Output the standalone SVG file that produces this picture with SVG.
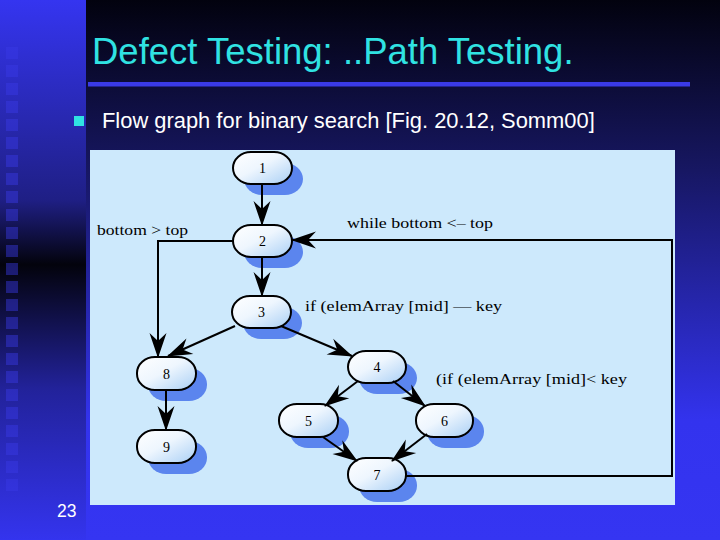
<svg xmlns="http://www.w3.org/2000/svg" width="720" height="540" viewBox="0 0 720 540">
<style>
.nl{font-family:"Liberation Serif","Times New Roman",serif;font-size:14px;fill:#000;text-anchor:middle}
.lb{font-family:"Liberation Serif","Times New Roman",serif;font-size:14px;fill:#000}
.node rect.b{fill:url(#ng);stroke:#000;stroke-width:2}
.node rect.s{fill:#5b85ee}
.edge{fill:none;stroke:#000;stroke-width:2;marker-end:url(#ah)}
.sq{fill:#3a3ae6;opacity:0.45}
</style>
<defs>
<linearGradient id="bgm" x1="0" y1="0" x2="0" y2="1">
<stop offset="0" stop-color="#02020e"/>
<stop offset="0.3" stop-color="#16165e"/>
<stop offset="0.78" stop-color="#3333ee"/>
<stop offset="1" stop-color="#3535f2"/>
</linearGradient>
<linearGradient id="bgl" x1="0" y1="0" x2="0" y2="1">
<stop offset="0" stop-color="#3535f0"/>
<stop offset="0.37" stop-color="#1f1f85"/>
<stop offset="0.49" stop-color="#03030c"/>
<stop offset="0.72" stop-color="#22229a"/>
<stop offset="1" stop-color="#3434ee"/>
</linearGradient>
<linearGradient id="ng" x1="0" y1="0" x2="1" y2="1">
<stop offset="0" stop-color="#ffffff"/>
<stop offset="0.45" stop-color="#eef6fe"/>
<stop offset="1" stop-color="#a9cff5"/>
</linearGradient>
<marker id="ah" viewBox="-26 -10 28 20" refX="0" refY="0" markerWidth="28" markerHeight="20" markerUnits="userSpaceOnUse" orient="auto">
<path d="M1,0 L-24,-8.5 L-16,0 L-24,8.5 Z" fill="#000"/>
</marker>
</defs>

<!-- background -->
<rect x="0" y="0" width="720" height="540" fill="url(#bgm)"/>
<rect x="0" y="0" width="86" height="540" fill="url(#bgl)"/>
<g id="squares">
<rect class="sq" x="6" y="47" width="12" height="12"/>
<rect class="sq" x="6" y="65" width="12" height="12"/>
<rect class="sq" x="6" y="83" width="12" height="12"/>
<rect class="sq" x="6" y="101" width="12" height="12"/>
<rect class="sq" x="6" y="119" width="12" height="12"/>
<rect class="sq" x="6" y="137" width="12" height="12"/>
<rect class="sq" x="6" y="155" width="12" height="12"/>
<rect class="sq" x="6" y="173" width="12" height="12"/>
<rect class="sq" x="6" y="191" width="12" height="12"/>
<rect class="sq" x="6" y="209" width="12" height="12"/>
<rect class="sq" x="6" y="227" width="12" height="12"/>
<rect class="sq" x="6" y="245" width="12" height="12"/>
<rect class="sq" x="6" y="263" width="12" height="12"/>
<rect class="sq" x="6" y="281" width="12" height="12"/>
<rect class="sq" x="6" y="299" width="12" height="12"/>
<rect class="sq" x="6" y="317" width="12" height="12"/>
<rect class="sq" x="6" y="335" width="12" height="12"/>
<rect class="sq" x="6" y="353" width="12" height="12"/>
<rect class="sq" x="6" y="371" width="12" height="12"/>
<rect class="sq" x="6" y="389" width="12" height="12"/>
<rect class="sq" x="6" y="407" width="12" height="12"/>
<rect class="sq" x="6" y="425" width="12" height="12"/>
<rect class="sq" x="6" y="443" width="12" height="12"/>
<rect class="sq" x="6" y="461" width="12" height="12" opacity="0.3"/>
<rect class="sq" x="6" y="479" width="12" height="12" opacity="0.2"/>
</g>

<!-- title -->
<text x="92" y="64" font-family="'Liberation Sans',Arial,sans-serif" font-size="36.5" fill="#30e2e2">Defect Testing: ..Path Testing.</text>
<rect x="88" y="82" width="602" height="4.5" fill="#3a3ae6"/>
<rect x="74" y="116" width="10" height="10" fill="#30e2e2"/>
<text x="102" y="128" font-family="'Liberation Sans',Arial,sans-serif" font-size="21.9" fill="#ffffff">Flow graph for binary search [Fig. 20.12, Somm00]</text>
<text x="57" y="517" font-family="'Liberation Sans',Arial,sans-serif" font-size="17.5" fill="#ffffff">23</text>

<!-- figure panel -->
<rect x="90" y="150" width="585" height="355" fill="#cde9fc"/>

<!-- nodes -->
<g id="n1" class="node"><rect class="s" x="244" y="163" width="59" height="32" rx="18" ry="16"/><rect class="b" x="233" y="152" width="59" height="32" rx="18" ry="16"/><text class="nl" x="262.5" y="173">1</text></g>
<g id="n2" class="node"><rect class="s" x="244" y="236" width="59" height="32" rx="18" ry="16"/><rect class="b" x="233" y="225" width="59" height="32" rx="18" ry="16"/><text class="nl" x="262.5" y="246">2</text></g>
<g id="n3" class="node"><rect class="s" x="243" y="307" width="59" height="32" rx="18" ry="16"/><rect class="b" x="232" y="296" width="59" height="32" rx="18" ry="16"/><text class="nl" x="261.5" y="317">3</text></g>
<g id="n8" class="node"><rect class="s" x="148" y="368" width="59" height="33" rx="18" ry="16"/><rect class="b" x="137" y="357" width="59" height="33" rx="18" ry="16"/><text class="nl" x="166.5" y="378.5">8</text></g>
<g id="n9" class="node"><rect class="s" x="148" y="441" width="59" height="33" rx="18" ry="16"/><rect class="b" x="137" y="430" width="59" height="33" rx="18" ry="16"/><text class="nl" x="166.5" y="451.5">9</text></g>
<g id="n4" class="node"><rect class="s" x="359" y="362" width="58" height="32" rx="18" ry="16"/><rect class="b" x="348" y="351" width="58" height="32" rx="18" ry="16"/><text class="nl" x="377" y="372">4</text></g>
<g id="n5" class="node"><rect class="s" x="290" y="415" width="59" height="33" rx="18" ry="16"/><rect class="b" x="279" y="404" width="59" height="33" rx="18" ry="16"/><text class="nl" x="308.5" y="425.5">5</text></g>
<g id="n6" class="node"><rect class="s" x="427" y="415" width="57" height="33" rx="18" ry="16"/><rect class="b" x="416" y="404" width="57" height="33" rx="18" ry="16"/><text class="nl" x="444.5" y="425.5">6</text></g>
<g id="n7" class="node"><rect class="s" x="359" y="469" width="58" height="33" rx="18" ry="16"/><rect class="b" x="348" y="458" width="58" height="33" rx="18" ry="16"/><text class="nl" x="377" y="479.5">7</text></g>

<!-- connectors -->
<g id="edges">
<path class="edge" d="M262,184 V225"/>
<path class="edge" d="M262,257 V296"/>
<path class="edge" d="M233,241 H158 V357"/>
<path class="edge" d="M235,326 L168,356"/>
<path class="edge" d="M281,326 L352,356"/>
<path class="edge" d="M166,390 V430"/>
<path class="edge" d="M358,381 L325,406"/>
<path class="edge" d="M393,381 L425,406"/>
<path class="edge" d="M323,437 L357,461"/>
<path class="edge" d="M427,434 L392,461"/>
<path class="edge" d="M406,476 H672 V240 H292"/>
</g>

<!-- labels -->
<g id="labels">
<text class="lb" x="97" y="235" textLength="91" lengthAdjust="spacingAndGlyphs">bottom &gt; top</text>
<text class="lb" x="347" y="228" textLength="146" lengthAdjust="spacingAndGlyphs">while bottom &lt;– top</text>
<text class="lb" x="305" y="311" textLength="197" lengthAdjust="spacingAndGlyphs">if (elemArray [mid] — key</text>
<text class="lb" x="436" y="384" textLength="191" lengthAdjust="spacingAndGlyphs">(if (elemArray [mid]&lt; key</text>
</g>
</svg>
